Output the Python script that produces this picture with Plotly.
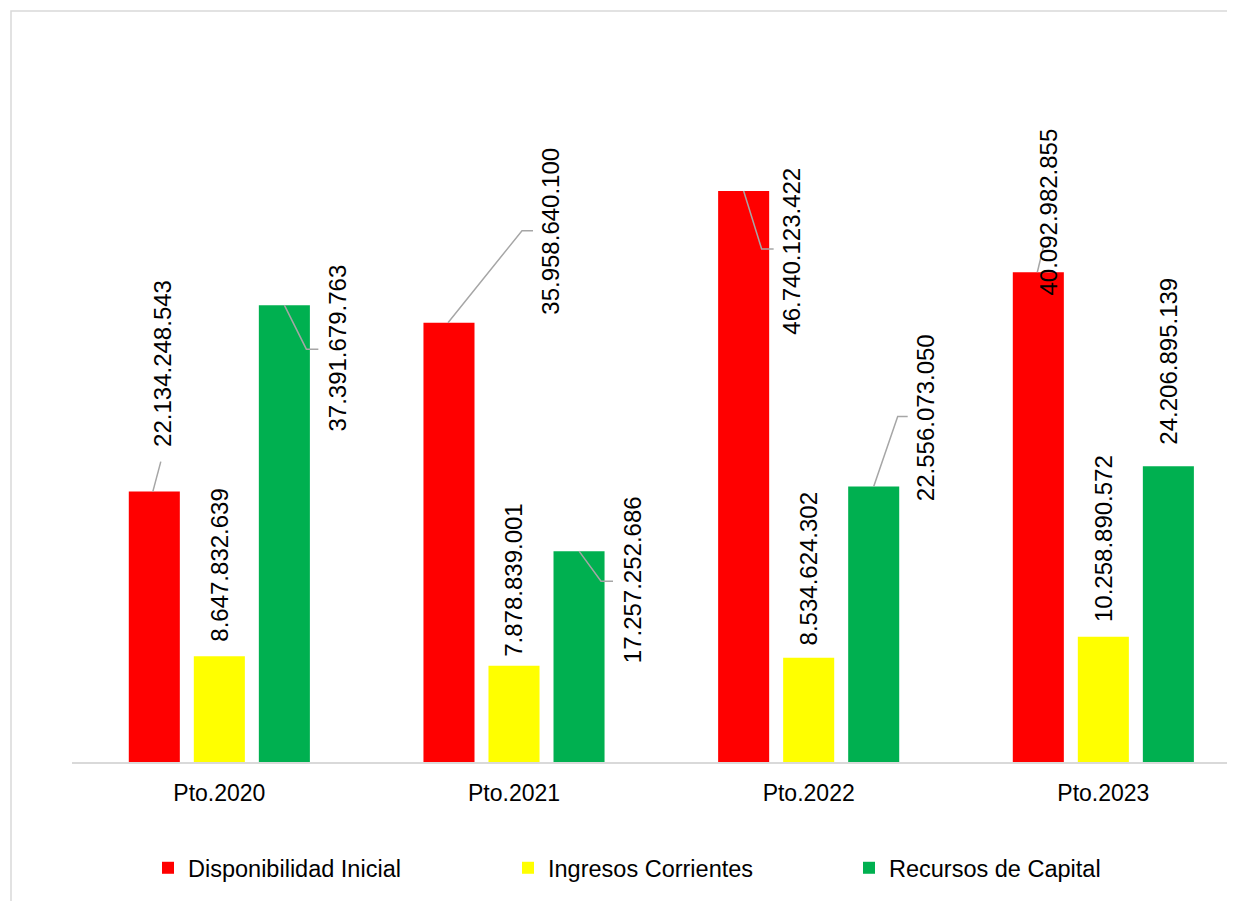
import plotly.graph_objects as go

# ---- data ----
categories = ["Pto.2020", "Pto.2021", "Pto.2022", "Pto.2023"]
series_names = ["Disponibilidad Inicial", "Ingresos Corrientes", "Recursos de Capital"]
disponibilidad = [22134248543, 35958640100, 46740123422, 40092982855]
ingresos = [8647832639, 7878839001, 8534624302, 10258890572]
recursos = [37391679763, 17257252686, 22556073050, 24206895139]

# ---- style ----
colors = ["#FF0000", "#FFFF00", "#00B050"]
FONT = "Liberation Sans, Arial, sans-serif"
BARGAP = 0.338
BARGROUPGAP = 0.215
W, H = 1227, 893          # page body adds an 8px margin
ML, MT, MB = 64, 21, 139
PLOT_W = W - ML
PLOT_H = H - MT - MB
CAT_PX = 294.67

# label pixel shifts (dx, dy up) relative to each bar top, per series per category
label_shifts = [
    [(8, 128), (102, 92), (48, -60), (10, 60)],
    [(0, 91), (0, 85), (0, 89), (0, 98)],
    [(53, -43), (53, -29), (52, 69), (0, 105)],
]
# leader line paths in pixels (x right, y up) relative to bar top, or None
leaders = [
    ["M-1.5,0 L6.5,30", "M-1,0 L73,92 L84,92", "M0,0 L18,-58 L30,-58", "M-1,0 L5,25"],
    [None, None, None, None],
    ["M0,0 L22,-44 L34,-44", "M0,0 L22,-30 L34,-30", "M0,0 L24,70 L34,70", None],
]


def fmt(v):
    return f"{v:,}".replace(",", ".")


series_values = [disponibilidad, ingresos, recursos]
xpos = list(range(len(categories)))
slot = (1 - BARGAP) / 3.0
offsets = [-slot, 0.0, slot]

fig = go.Figure()
legend_ids = ["legend", "legend2", "legend3"]
for k, (name, vals) in enumerate(zip(series_names, series_values)):
    fig.add_trace(go.Bar(
        x=xpos, y=vals, name=name,
        marker=dict(color=colors[k], line=dict(width=0)),
        legend=legend_ids[k],
        hoverinfo="skip",
    ))

annotations = []
shapes = []
for k, vals in enumerate(series_values):
    for i, v in enumerate(vals):
        bx = xpos[i] + offsets[k]
        dx, dy = label_shifts[k][i]
        annotations.append(dict(
            x=bx, y=v, xref="x", yref="y", text=fmt(v), showarrow=False,
            textangle=-90, xanchor="center", yanchor="middle",
            xshift=dx, yshift=dy,
            font=dict(family=FONT, size=24, color="#000000"),
        ))
        if leaders[k][i]:
            shapes.append(dict(
                type="path", xref="x", yref="y",
                xsizemode="pixel", ysizemode="pixel",
                xanchor=bx, yanchor=v, path=leaders[k][i],
                line=dict(color="#A6A6A6", width=1.5),
            ))

# outer chart border (only left and top edges are visible in the crop)
bx0 = (3 - ML) / PLOT_W
by1 = (PLOT_H + MT - 3) / PLOT_H
shapes.append(dict(
    type="path", xref="paper", yref="paper",
    path=f"M{bx0},-0.6 L{bx0},{by1} L1.05,{by1}",
    line=dict(color="#D9D9D9", width=1.5), layer="below",
))

leg_common = dict(orientation="h", yanchor="middle", y=-106 / PLOT_H, xanchor="left",
                  font=dict(family=FONT, size=23.5, color="#000000"),
                  bgcolor="rgba(0,0,0,0)", borderwidth=0)

fig.update_layout(
    width=W, height=H,
    margin=dict(l=ML, r=0, t=MT, b=MB, pad=0),
    paper_bgcolor="white", plot_bgcolor="white",
    barmode="group", bargap=BARGAP, bargroupgap=BARGROUPGAP,
    annotations=annotations, shapes=shapes,
    legend=dict(x=76 / PLOT_W, **leg_common),
    legend2=dict(x=436 / PLOT_W, **leg_common),
    legend3=dict(x=777 / PLOT_W, **leg_common),
    xaxis=dict(
        tickmode="array", tickvals=xpos, ticktext=categories,
        range=[-0.5, -0.5 + PLOT_W / CAT_PX],
        showline=True, linecolor="#D9D9D9", linewidth=1.5,
        ticks="outside", ticklen=10, tickcolor="rgba(0,0,0,0)",
        showgrid=False, zeroline=False,
        tickfont=dict(family=FONT, size=23, color="#000000"),
    ),
    yaxis=dict(range=[0, 60e9], visible=False, showgrid=False, zeroline=False),
    showlegend=True,
)

fig.write_html("out.html")
